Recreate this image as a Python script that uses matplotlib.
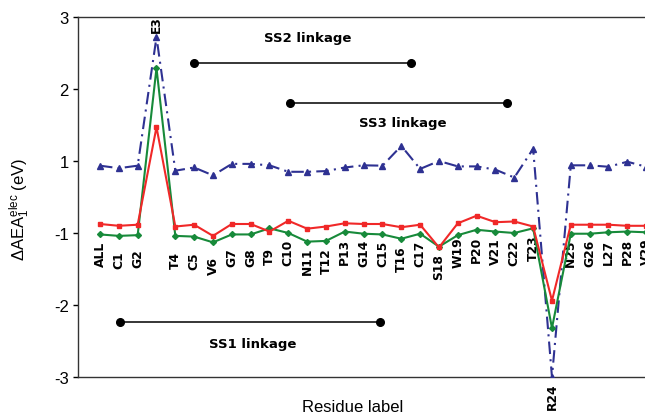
import numpy as np
import matplotlib
matplotlib.use("Agg")
import matplotlib.pyplot as plt

residues = ["ALL", "C1", "G2", "E3", "T4", "C5", "V6", "G7", "G8", "T9", "C10",
            "N11", "T12", "P13", "G14", "C15", "T16", "C17", "S18", "W19", "P20",
            "V21", "C22", "T23", "R24", "N25", "G26", "L27", "P28", "V29"]

blue = [0.935, 0.90, 0.935, 2.72, 0.865, 0.91, 0.80, 0.96, 0.96, 0.94, 0.85,
        0.85, 0.86, 0.91, 0.94, 0.935, 1.21, 0.89, 1.00, 0.925, 0.925,
        0.88, 0.77, 1.17, -3.00, 0.94, 0.94, 0.92, 0.99, 0.92]
red = [-0.875, -0.90, -0.885, 1.47, -0.91, -0.885, -1.04, -0.875, -0.875, -0.98, -0.83,
       -0.94, -0.91, -0.865, -0.875, -0.875, -0.92, -0.885, -1.20, -0.865, -0.76,
       -0.85, -0.84, -0.91, -1.94, -0.885, -0.885, -0.885, -0.90, -0.90]
green = [-1.02, -1.04, -1.03, 2.29, -1.04, -1.05, -1.13, -1.02, -1.02, -0.935, -1.00,
         -1.12, -1.11, -0.98, -1.01, -1.02, -1.08, -1.01, -1.19, -1.03, -0.955,
         -0.98, -1.00, -0.935, -2.32, -1.01, -1.01, -0.99, -0.98, -0.99]

linkage_names = ["SS1 linkage", "SS2 linkage", "SS3 linkage"]
linkage_start = [1.06, 4.97, 10.1]
linkage_end = [14.87, 16.5, 21.6]
linkage_y = [-2.23, 2.36, 1.81]
linkage_label_x = [8.1, 11.05, 16.1]
linkage_label_y = [-2.54, 2.72, 1.54]

ytick_vals = [3, 2, 1, -1, -2, -3]
ytick_labels = ["3", "2", "1", "-1", "-2", "-3"]


def fwd(v):
    v = np.asarray(v, dtype=float)
    return np.where(v >= 0, v - 0.5, v + 0.5)


def inv(t):
    t = np.asarray(t, dtype=float)
    return np.where(t >= 0, t + 0.5, t - 0.5)


plt.rcParams["mathtext.fontset"] = "custom"
plt.rcParams["mathtext.rm"] = "Liberation Sans"
plt.rcParams["mathtext.it"] = "Liberation Sans:italic"
plt.rcParams["mathtext.bf"] = "Liberation Sans:bold"

W, H = 645, 414
fig = plt.figure(figsize=(W / 100, H / 100), dpi=100)
ax = fig.add_axes([78 / W, 1 - 378 / H, 1 - 78 / W, 360 / H])
ax.set_yscale("function", functions=(fwd, inv))

x = np.arange(len(residues))
ax.plot(x, blue, color="#2E3192", lw=1.5, linestyle=(0, (6, 2.5, 1, 2.5)),
        marker="^", markersize=4, zorder=3)
ax.plot(x, green, color="#178A3A", lw=1.5, marker="D", markersize=3, zorder=4)
ax.plot(x, red, color="#F02828", lw=1.5, marker="s", markersize=3.5, zorder=5)

ax.set_ylim(-3, 3)
ax.set_xlim(-1.168, 28.94)
ax.set_yticks(ytick_vals)
ax.set_yticklabels(ytick_labels, fontfamily="Liberation Sans", fontsize=12)
ax.yaxis.set_minor_locator(matplotlib.ticker.NullLocator())
ax.tick_params(axis="y", direction="out", length=3.5, width=1, pad=3)
ax.set_xticks([])
ax.spines["right"].set_visible(False)
for s in ["left", "top", "bottom"]:
    ax.spines[s].set_linewidth(1.0)
    ax.spines[s].set_color("#333333")

# residue labels placed near the data points
for i, name in enumerate(residues):
    vals = [blue[i], red[i], green[i]]
    if min(vals) > 0:
        ax.annotate(name, xy=(i, max(vals)), xytext=(0, 4), textcoords="offset points",
                    rotation=90, rotation_mode="anchor", ha="left", va="center",
                    fontsize=8.8, fontweight="bold", fontfamily="DejaVu Sans",
                    annotation_clip=False)
    else:
        ax.annotate(name, xy=(i, min(vals)), xytext=(0, -23), textcoords="offset points",
                    rotation=90, rotation_mode="anchor", ha="left", va="center",
                    fontsize=8.8, fontweight="bold", fontfamily="DejaVu Sans",
                    annotation_clip=False)

for name, xs, xe, yy, lx, ly in zip(linkage_names, linkage_start, linkage_end,
                                    linkage_y, linkage_label_x, linkage_label_y):
    ax.plot([xs, xe], [yy, yy], color="black", lw=1.1, marker="o", markersize=5.5, zorder=6)
    ax.text(lx, ly, name, ha="center", va="center", fontsize=9.5, fontweight="bold",
            fontfamily="DejaVu Sans")

fig.text(20 / W, 1 - 209 / H, "ΔAEA$_\\mathregular{1}^\\mathregular{elec}$ (eV)", rotation=90,
         ha="center", va="center", fontsize=12, fontfamily="Liberation Sans")
fig.text(353 / W, 2 / H, "Residue label", ha="center", va="baseline", fontsize=12,
         fontfamily="Liberation Sans")

fig.savefig("out.png", dpi=100)
